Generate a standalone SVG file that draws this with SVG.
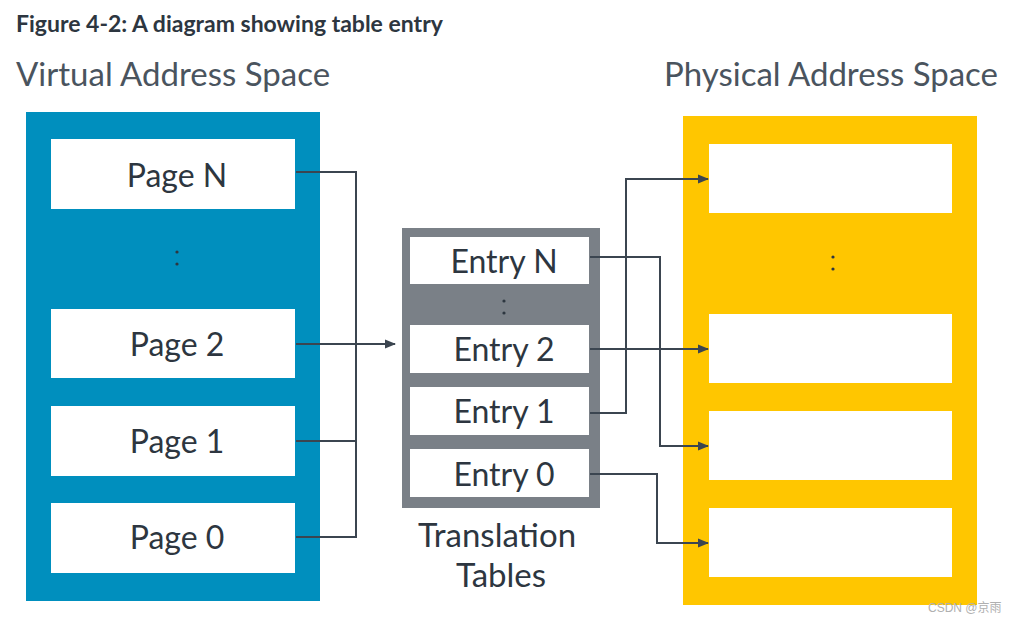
<svg xmlns="http://www.w3.org/2000/svg" width="1012" height="622" viewBox="0 0 1012 622">
<style>
.t{font-family:Lato,"Liberation Sans",sans-serif;fill:#2d3640}
.h{font-size:33px;fill:#4a545e}
.lbl{font-size:32px;text-anchor:middle}
.w{fill:#ffffff}
.c{fill:none;stroke:#3b4550;stroke-width:2}
.dot{fill:#2d3640}
</style>
<defs>
<marker id="ah" markerWidth="12" markerHeight="12" refX="10" refY="6" orient="auto" markerUnits="userSpaceOnUse">
<path d="M0,1.5 L11,6 L0,10.5 z" fill="#3b4550"/>
</marker>
</defs>
<rect width="1012" height="622" fill="#ffffff"/>
<text class="t" x="16" y="32" font-size="23" font-weight="bold" fill="#111">Figure 4-2: A diagram showing table entry</text>
<text class="t h" x="16" y="86">Virtual Address Space</text>
<text class="t h" x="664" y="86">Physical Address Space</text>

<g id="virtual">
<rect x="26" y="112" width="294" height="489" fill="#008fbe"/>
<g id="pageN"><rect class="w" x="51" y="139" width="244" height="70"/><text class="t lbl" x="177" y="187">Page N</text></g>
<circle class="dot" cx="177" cy="252" r="1.6"/><circle class="dot" cx="177" cy="264" r="1.6"/>
<g id="page2"><rect class="w" x="51" y="309" width="244" height="69"/><text class="t lbl" x="177" y="356">Page 2</text></g>
<g id="page1"><rect class="w" x="51" y="406" width="244" height="70"/><text class="t lbl" x="177" y="453">Page 1</text></g>
<g id="page0"><rect class="w" x="51" y="503" width="244" height="70"/><text class="t lbl" x="177" y="549">Page 0</text></g>
</g>

<g id="tables">
<rect x="402" y="228" width="198" height="280" fill="#7a8087"/>
<g id="entryN"><rect class="w" x="410" y="237" width="179" height="47"/><text class="t lbl" x="504" y="273">Entry N</text></g>
<circle class="dot" cx="504" cy="301" r="1.6"/><circle class="dot" cx="504" cy="313" r="1.6"/>
<g id="entry2"><rect class="w" x="410" y="325" width="179" height="48"/><text class="t lbl" x="504" y="361">Entry 2</text></g>
<g id="entry1"><rect class="w" x="410" y="387" width="179" height="48"/><text class="t lbl" x="504" y="423">Entry 1</text></g>
<g id="entry0"><rect class="w" x="410" y="449" width="179" height="48"/><text class="t lbl" x="504" y="486">Entry 0</text></g>
<text class="t lbl" x="497" y="547" fill="#4a545e" style="font-size:33px">Translation</text>
<text class="t lbl" x="501" y="587" fill="#4a545e" style="font-size:33px">Tables</text>
</g>

<g id="physical">
<rect x="683" y="116" width="294" height="489" fill="#ffc600"/>
<rect class="w" x="709" y="144" width="243" height="69"/>
<circle class="dot" cx="833" cy="257" r="1.6"/><circle class="dot" cx="833" cy="269" r="1.6"/>
<rect class="w" x="709" y="314" width="243" height="69"/>
<rect class="w" x="709" y="411" width="243" height="69"/>
<rect class="w" x="709" y="508" width="243" height="69"/>
</g>

<g id="connectors">
<path class="c" d="M296,172 H356 V537 H296"/>
<path class="c" d="M296,441 H356"/>
<path class="c" d="M296,344 H395" marker-end="url(#ah)"/>
<path class="c" d="M590,257 H660 V446 H708" marker-end="url(#ah)"/>
<path class="c" d="M590,349 H708" marker-end="url(#ah)"/>
<path class="c" d="M590,413 H626 V179 H708" marker-end="url(#ah)"/>
<path class="c" d="M590,474 H657 V543 H708" marker-end="url(#ah)"/>
</g>

<text x="928" y="612" font-family="'Liberation Sans','Noto Sans CJK SC',sans-serif" font-size="12" fill="#b0b0b0">CSDN @京雨</text>
</svg>
